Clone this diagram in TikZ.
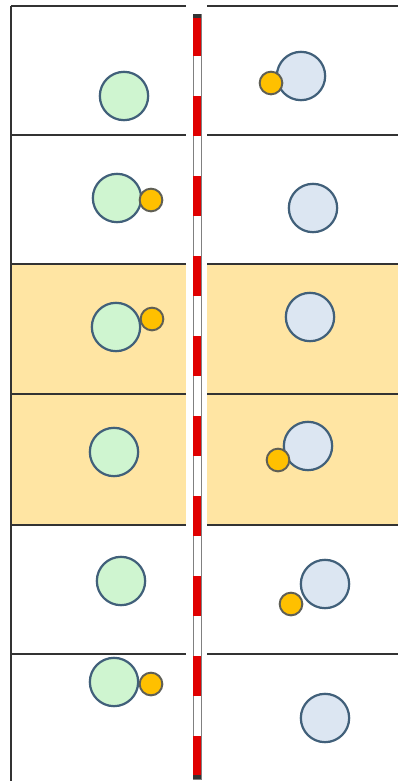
\documentclass[tikz,border=0pt]{standalone}
\usetikzlibrary{positioning}
\definecolor{rim}{HTML}{41607A}
\definecolor{mint}{HTML}{CFF5D0}
\definecolor{sky}{HTML}{DCE6F2}
\definecolor{amber}{HTML}{FFC000}
\definecolor{amberrim}{HTML}{5F5F55}
\definecolor{band}{HTML}{FFE5A3}
\definecolor{rule}{HTML}{333333}
\definecolor{polered}{HTML}{E00000}

\begin{document}
\begin{tikzpicture}[x=0.03cm, y=-0.03cm,
      big/.style={circle, draw=rim, line width=1.9pt, minimum size=1.45cm, inner sep=0pt},
      green/.style={big, fill=mint},
      blue/.style={big, fill=sky},
      small/.style={circle, draw=amberrim, line width=1.7pt, fill=amber,
                    minimum size=0.68cm, inner sep=0pt},
      line/.style={draw=rule, line width=1pt}]
    \useasboundingbox (0,0) rectangle (398,781);
    % shaded rows
    \fill[band] (11,264) rectangle (186,525);
    \fill[band] (207,264) rectangle (398,525);
    % row lines
    \foreach \y in {6,135,264,394,525,654} {
      \draw[line] (11,\y) -- (186,\y);
      \draw[line] (207,\y) -- (398,\y);
    }
    \draw[line] (11,6) -- (11,781);
    % pole
    \draw[gray, line width=0.5pt, fill=white] (193,14) rectangle (201,779);
    \foreach \t in {16,96,...,736}
      \fill[polered] (193.4,\t) rectangle (200.6,\t+40);
    \fill[black!80] (193.4,14) rectangle (200.6,18);
    \fill[black!80] (193.4,775) rectangle (200.6,779);
    % left column
    \node[green] (g1) at (124,96) {};
    \node[green] (g2) at (117,198) {};
    \node[green] (g3) at (116,327) {};
    \node[green] (g4) at (114,452) {};
    \node[green] (g5) at (121,581) {};
    \node[green] (g6) at (114,682) {};
    % right column
    \node[blue] (b1) at (301,76) {};
    \node[blue] (b2) at (313,208) {};
    \node[blue] (b3) at (310,317) {};
    \node[blue] (b4) at (308,446) {};
    \node[blue] (b5) at (325,584) {};
    \node[blue] (b6) at (325,718) {};
    % small ones
    \node[small] (o1) at (271,83) {};
    \node[small] (o2) at (151,200) {};
    \node[small] (o3) at (152,319) {};
    \node[small] (o4) at (278,460) {};
    \node[small] (o5) at (291,604) {};
    \node[small] (o6) at (151,684) {};
  \end{tikzpicture}
\end{document}
